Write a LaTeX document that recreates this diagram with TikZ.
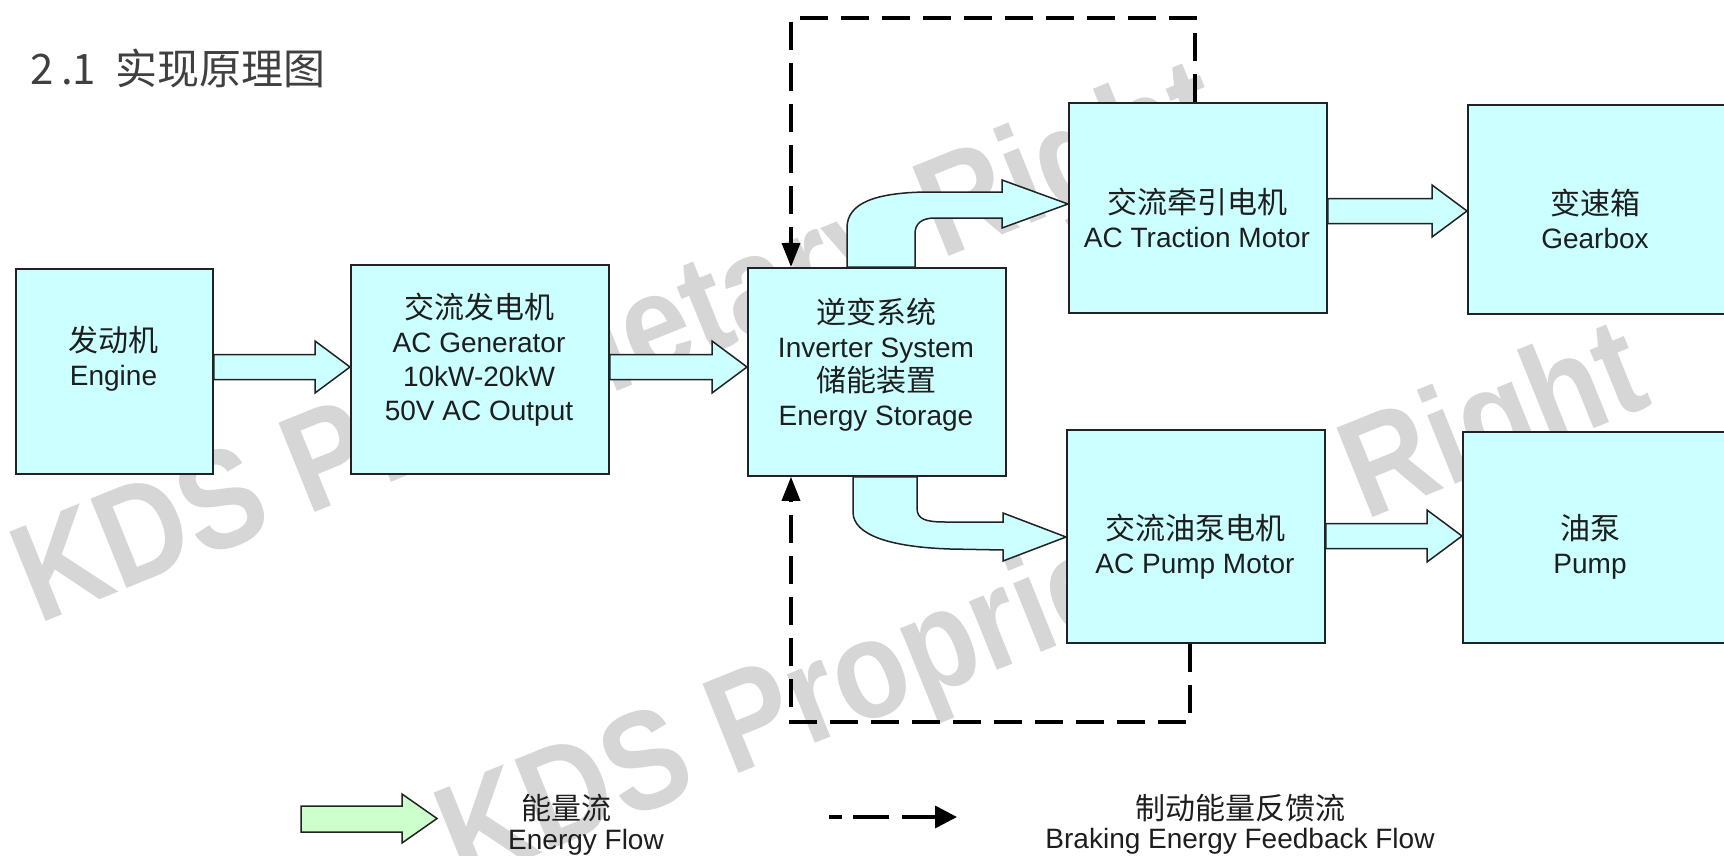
\documentclass[tikz,border=0pt]{standalone}
\usepackage{fontspec}
\setmainfont{Liberation Sans}
\newfontfamily\cjk{Noto Sans CJK SC}
\usetikzlibrary{arrows.meta,calc}
\definecolor{boxfill}{HTML}{CCFFFF}
\definecolor{legfill}{HTML}{CCFFCC}
\definecolor{edge}{HTML}{222222}
\definecolor{wmark}{HTML}{D6D6D6}
\definecolor{txt}{HTML}{1E1E1E}
\definecolor{titlec}{HTML}{404040}
\newcommand{\zh}[1]{{\cjk\fontsize{30}{34}\selectfont #1}}
\newcommand{\wmtext}{\scalebox{0.87}[1]{KDS Proprietary Right}}
\newcommand{\blkarrow}[3]{%
  \draw[blk] ($(#1.east |- 0,#3)+(0,-12.5)$) -- ($(#2.west |- 0,#3)+(-35,-12.5)$)
    -- ($(#2.west |- 0,#3)+(-35,-26)$) -- (#2.west |- 0,#3)
    -- ($(#2.west |- 0,#3)+(-35,26)$) -- ($(#2.west |- 0,#3)+(-35,12.5)$)
    -- ($(#1.east |- 0,#3)+(0,12.5)$) -- cycle;}
\begin{document}
\begin{tikzpicture}[x=1pt,y=-1pt,
  box/.style={draw=edge,line width=1.8pt,fill=boxfill,inner sep=0pt,anchor=north west},
  lbl/.style={align=center,text=txt,font=\fontsize{28}{34}\selectfont,inner sep=0pt},
  blk/.style={draw=edge,line width=1.5pt,fill=boxfill,line join=miter},
  fb/.style={draw=black,line width=3.5pt,dash pattern=on 28pt off 13pt,-{Triangle[length=24pt,width=18pt]}},
  wm/.style={text=wmark,font=\bfseries\fontsize{140}{140}\selectfont,anchor=base west,rotate=22,inner sep=0pt}
]
\fill[white] (0,0) rectangle (1724,856);
\useasboundingbox (0,0) rectangle (1724,856);

% watermarks
\node[wm] (wm1) at (38,625) {\wmtext};
\node[wm] (wm2) at (462,886) {\wmtext};

% title
\node[anchor=west,inner sep=0pt,text=titlec] (title) at (31,68)
  {\cjk\fontsize{42}{48}\selectfont\makebox[21pt][c]{2}\makebox[21pt][r]{.}\makebox[21pt][c]{1}\hspace{21pt}实现原理图};

% boxes
\node[box,minimum width=197pt,minimum height=205pt] (engine) at (15,268) {};
\node[box,minimum width=258pt,minimum height=209pt] (gen) at (350,264) {};
\node[box,minimum width=258pt,minimum height=208pt] (inv) at (747,267) {};
\node[box,minimum width=258pt,minimum height=210pt] (trac) at (1068,102) {};
\node[box,minimum width=262pt,minimum height=209pt] (gear) at (1467,104) {};
\node[box,minimum width=258pt,minimum height=213pt] (pmot) at (1066,429) {};
\node[box,minimum width=266pt,minimum height=211pt] (pump) at (1462,431) {};

% labels
\node[lbl] (engine-t) at (113.5,359) {\zh{发动机}\\Engine};
\node[lbl] (gen-t) at (479,359.5) {\zh{交流发电机}\\AC Generator\\10kW-20kW\\50V AC Output};
\node[lbl] (inv-t) at (876,364.5) {\zh{逆变系统}\\Inverter System\\\zh{储能装置}\\Energy Storage};
\node[lbl] (trac-t) at (1197,217.5) {\zh{交流牵引电机}\\AC Traction Motor};
\node[lbl] (gear-t) at (1595,218.5) {\zh{变速箱}\\Gearbox};
\node[lbl] (pmot-t) at (1195,546.5) {\zh{交流油泵电机}\\AC Pump Motor};
\node[lbl] (pump-t) at (1590,547) {\zh{油泵}\\Pump};

% straight block arrows
\blkarrow{engine}{gen}{367}
\blkarrow{gen}{inv}{367}
\blkarrow{trac}{gear}{211}
\blkarrow{pmot}{pump}{536}

% curved block arrows
\draw[blk] (inv.north -| 847,0) -- (847,228) .. controls (847,203) and (875,193) .. (925,192)
  -- (1002,192) -- (1002,180) -- (trac.west |- 0,204) -- (1002,228) -- (1002,218) -- (935,218)
  .. controls (921,218) and (915,224) .. (915,234) -- (inv.north -| 915,0) -- cycle;
\draw[blk] (inv.south -| 853,0) -- (853,512) .. controls (853,535) and (890,547) .. (950,549)
  -- (1003,550) -- (1003,561) -- (pmot.west |- 0,537) -- (1003,513) -- (1003,522) -- (945,522)
  .. controls (925,522) and (917,519) .. (917,508) -- (inv.south -| 917,0) -- cycle;

% braking feedback
\draw[fb] (trac.north -| 1195,0) -- (1195,18) -- (791,18) -- (inv.north -| 791,0);
\draw[fb] (pmot.south -| 1190,0) -- (1190,722) -- (791,722) -- (inv.south -| 791,0);

% legend
\draw[draw=edge,line width=1.5pt,fill=legfill] (301,806) -- (402,806) -- (402,794) -- (437,818.5)
  -- (402,843) -- (402,832) -- (301,832) -- cycle;
\node[lbl] (leg1a) at (566,808) {\zh{能量流}};
\node[lbl] (leg1b) at (586,842) {Energy Flow};
\coordinate (ld1) at (829,817);
\coordinate (ld2) at (957,817);
\draw[line width=3.5pt,dash pattern=on 13pt off 11pt on 36pt off 13pt on 80pt,
  -{Triangle[length=22pt,width=22pt]}] (ld1) -- (ld2);
\node[lbl] (leg2a) at (1240,808) {\zh{制动能量反馈流}};
\node[lbl] (leg2b) at (1240,841) {Braking Energy Feedback Flow};
\end{tikzpicture}
\end{document}
